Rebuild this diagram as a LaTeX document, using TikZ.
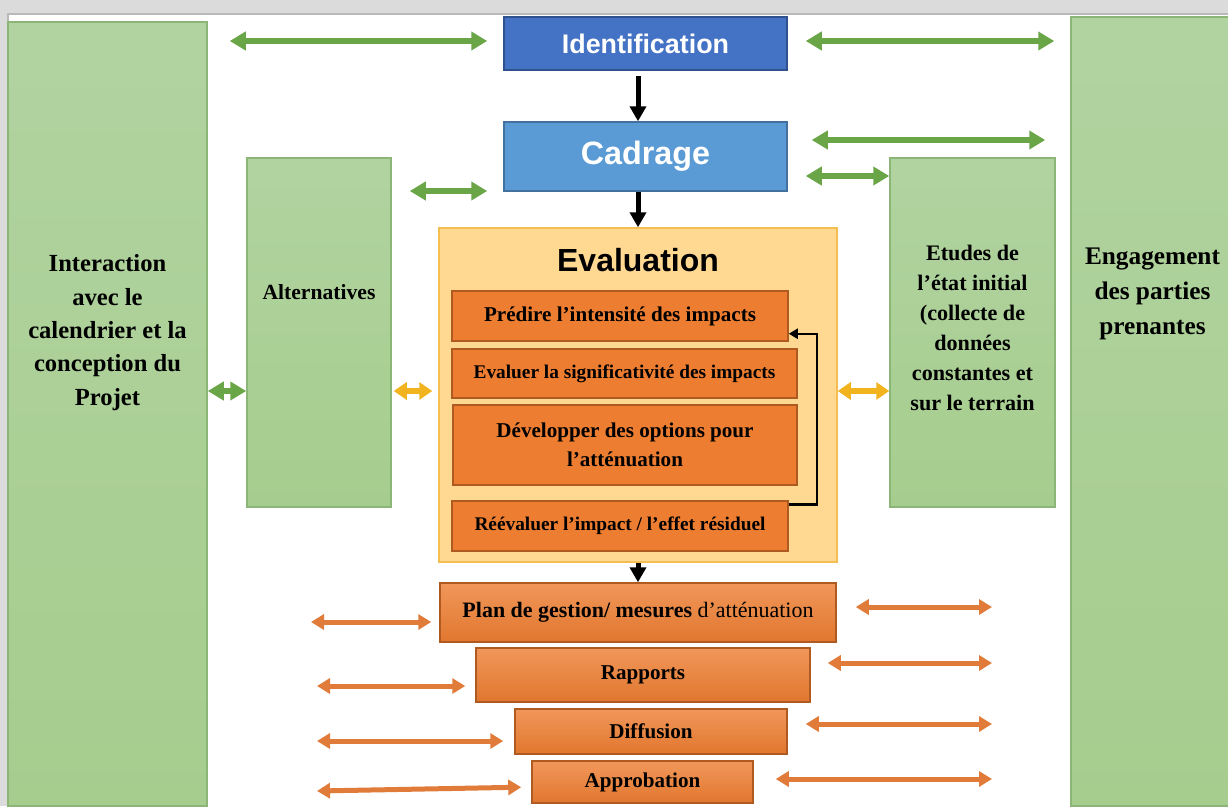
\documentclass[tikz,border=0pt]{standalone}
\usepackage{fontspec}
\setmainfont{Liberation Serif}
\setsansfont{Liberation Sans}
\usetikzlibrary{arrows.meta, positioning}
\definecolor{eie_green}{RGB}{177,211,160}
\definecolor{eie_greendark}{RGB}{166,205,142}
\definecolor{eie_greenline}{RGB}{140,182,120}
\definecolor{eie_arrowgreen}{RGB}{106,166,72}
\definecolor{eie_blue}{RGB}{68,114,196}
\definecolor{eie_blueline}{RGB}{47,82,143}
\definecolor{eie_lightblue}{RGB}{91,155,213}
\definecolor{eie_lightblueline}{RGB}{65,113,156}
\definecolor{eie_orange}{RGB}{237,125,49}
\definecolor{eie_orangeline}{RGB}{174,90,33}
\definecolor{eie_sand}{RGB}{255,217,145}
\definecolor{eie_gold}{RGB}{245,190,80}
\definecolor{eie_yellow}{RGB}{242,180,30}
\definecolor{eie_arroworange}{RGB}{224,123,58}

\begin{document}
\begin{tikzpicture}[x=0.2mm, y=-0.2mm, inner sep=0pt,
        gbox/.style={draw=eie_greenline, line width=0.3mm,
                     top color=eie_green, bottom color=eie_greendark},
        gtxt/.style={align=center, font=\bfseries},
        bbox/.style={line width=0.3mm, minimum width=56.6mm,
                     text=white, font=\sffamily\bfseries},
        obox/.style={draw=eie_orangeline, fill=eie_orange, line width=0.3mm,
                     align=center, font=\bfseries\fontsize{11}{15}\selectfont},
        pbox/.style={obox, top color=eie_orange!80!white,
                     bottom color=eie_orange!95!black,
                     font=\bfseries\fontsize{12}{15}\selectfont},
        garr/.style={{Triangle[length=3.2mm,width=3.6mm]}-{Triangle[length=3.2mm,width=3.6mm]},
                     line width=1.1mm, draw=eie_arrowgreen},
        yarr/.style={{Triangle[length=2.6mm,width=3.4mm]}-{Triangle[length=2.6mm,width=3.4mm]},
                     line width=1.1mm, draw=eie_yellow},
        oarr/.style={{Triangle[length=2.6mm,width=3mm]}-{Triangle[length=2.6mm,width=3mm]},
                     line width=1mm, draw=eie_arroworange},
        barr/.style={-{Triangle[length=3mm,width=3.2mm]}, line width=1mm}]
        \useasboundingbox (0,0) rectangle (1228,806);
        % Cadre
        \fill[gray!28] (0,0) rectangle (1228,806);
        \fill[white] (8,14) rectangle (1228,806);
        \draw[gray!55, line width=0.5mm] (8,806) -- (8,14) -- (1228,14);
        % Colonnes vertes
        \node[gbox, minimum width=39.8mm, minimum height=156.8mm] (inter) at (107.5,414) {};
        \node[gbox, minimum width=32.6mm, minimum height=157.8mm] (engage) at (1152.5,411.5) {};
        \node[gbox, minimum width=28.8mm, minimum height=69.8mm] (alt) at (319,332.5) {};
        \node[gbox, minimum width=33mm, minimum height=69.8mm] (etudes) at (972.5,332.5) {};
        \node[gtxt, below=46.6mm of inter.north, font=\bfseries\fontsize{14}{19}\selectfont]
          {Interaction\\avec le\\calendrier et la\\conception du\\Projet};
        \node[gtxt, below=25.4mm of alt.north, font=\bfseries\fontsize{12.3}{16}\selectfont]
          {Alternatives};
        \node[gtxt, below=17.6mm of etudes.north, font=\bfseries\fontsize{12.6}{17}\selectfont]
          {Etudes de\\l’état initial\\(collecte de\\données\\constantes et\\sur le terrain};
        \node[gtxt, below=46.2mm of engage.north, font=\bfseries\fontsize{14.4}{20}\selectfont]
          {Engagement\\des parties\\prenantes};
        % Etapes
        \node[bbox, draw=eie_blueline, fill=eie_blue, minimum height=10.6mm,
              font=\sffamily\bfseries\fontsize{15.3}{18}\selectfont] (ident) at (645.5,43.5)
          {Identification};
        \node[bbox, draw=eie_lightblueline, fill=eie_lightblue, minimum height=13.8mm,
              font=\sffamily\bfseries\fontsize{18.4}{22}\selectfont] (cadrage) at (645.5,156.5)
          {Cadrage};
        \node[draw=eie_gold, fill=eie_sand, line width=0.3mm, minimum width=79.6mm,
              minimum height=66.8mm] (eval) at (638,395) {};
        \node[below=4.2mm of eval.north, font=\sffamily\bfseries\fontsize{18.2}{22}\selectfont]
          (evaltitle) {Evaluation};
        \node[obox, minimum width=67.2mm, minimum height=10mm,
              font=\bfseries\fontsize{12}{15}\selectfont] (pred) at (620,316)
          {Prédire l’intensité des impacts};
        \node[obox, minimum width=69mm, minimum height=9.8mm] (signif) at (624.5,373.5)
          {Evaluer la significativité des impacts};
        \node[obox, minimum width=68.8mm, minimum height=16mm,
              font=\bfseries\fontsize{12}{16.7}\selectfont] (dev) at (625,445)
          {Développer des options pour\\l’atténuation};
        \node[obox, minimum width=67.2mm, minimum height=10mm] (reev) at (620,526)
          {Réévaluer l’impact / l’effet résiduel};
        \node[pbox, minimum width=79.2mm, minimum height=11.8mm,
              font=\bfseries\fontsize{12.5}{15}\selectfont] (plan) at (638,612.5)
          {Plan de gestion/ mesures \textmd{d’atténuation}};
        \node[pbox, minimum width=66.8mm, minimum height=10.8mm] (rapp) at (643,675) {Rapports};
        \node[pbox, minimum width=54.4mm, minimum height=9mm] (diff) at (651,731.5) {Diffusion};
        \node[pbox, minimum width=44.2mm, minimum height=8.4mm] (appro) at (642.5,782) {Approbation};
        % Flèches noires
        \draw[barr] (ident.south -| eval.north) ++(0,5) -- (cadrage.north -| eval.north);
        \draw[barr] (cadrage.south -| eval.north) -- (eval.north);
        \draw[barr] (eval.south) -- (plan.north);
        \draw[-{Triangle[length=1.8mm,width=2mm]}, line width=0.5mm]
          ([yshift=-0.8mm]reev.north east) -- ++(5.6mm,0) |- ([yshift=1.6mm]pred.south east);
        % Flèches vertes et jaunes
        \coordinate (h1) at (0,41);
        \coordinate (h2) at (0,140);
        \coordinate (h3) at (0,176);
        \coordinate (h4) at (0,191);
        \coordinate (h5) at (0,391);
        \draw[garr, shorten <=4.4mm, shorten >=3.2mm] (inter.east |- h1) -- (ident.west |- h1);
        \draw[garr, shorten <=3.6mm, shorten >=3.2mm] (ident.east |- h1) -- (engage.west |- h1);
        \draw[garr, shorten <=4.8mm, shorten >=5mm] (cadrage.east |- h2) -- (engage.west |- h2);
        \draw[garr, shorten <=3.6mm] (cadrage.east |- h3) -- (etudes.west |- h3);
        \draw[garr, shorten <=3.6mm, shorten >=3.2mm] (alt.east |- h4) -- (cadrage.west |- h4);
        \draw[garr] (inter.east |- h5) -- (alt.west |- h5);
        \draw[yarr, shorten <=0.4mm, shorten >=1.2mm] (alt.east |- h5) -- (eval.west |- h5);
        \draw[yarr] (eval.east |- h5) -- (etudes.west |- h5);
        % Flèches orange
        \coordinate (l1) at (311,622);
        \coordinate (l2) at (317,686);
        \coordinate (l3) at (317,741);
        \coordinate (l4) at (317,791);
        \coordinate (r1) at (992,607);
        \coordinate (r2) at (992,663);
        \coordinate (r3) at (992,724);
        \coordinate (r4) at (992,779);
        \draw[oarr, shorten >=1.6mm] (l1) -- (plan.west |- l1);
        \draw[oarr, shorten >=2mm] (l2) -- (rapp.west |- l2);
        \draw[oarr, shorten >=2.2mm] (l3) -- (diff.west |- l3);
        \draw[oarr, shorten >=2mm] (l4) -- ([yshift=-1mm]appro.west);
        \draw[oarr, shorten <=3.8mm] (plan.east |- r1) -- (r1);
        \draw[oarr, shorten <=3.4mm] (rapp.east |- r2) -- (r2);
        \draw[oarr, shorten <=3.6mm] (diff.east |- r3) -- (r3);
        \draw[oarr, shorten <=4.4mm] (appro.east |- r4) -- (r4);
      \end{tikzpicture}
\end{document}
